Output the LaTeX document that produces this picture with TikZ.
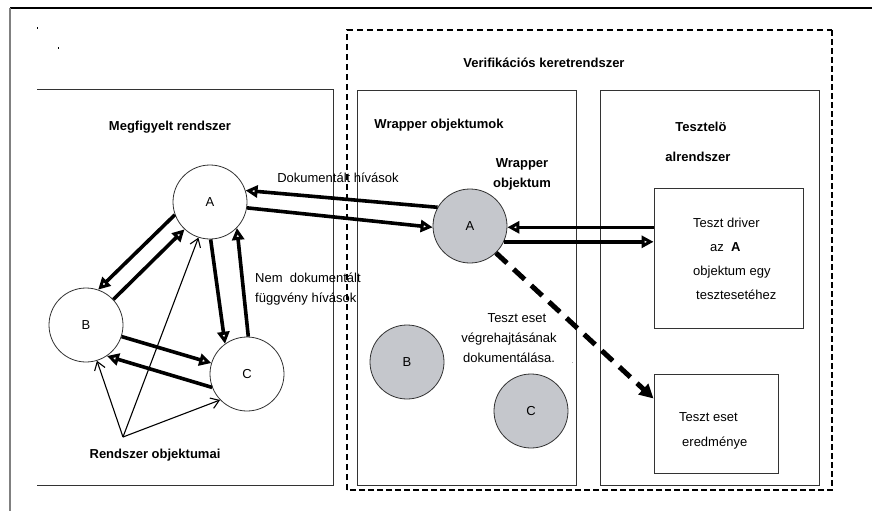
\documentclass[tikz,border=0pt]{standalone}
\usepackage{fontspec}
\setmainfont{Liberation Sans}
\usetikzlibrary{arrows.meta,calc}
\definecolor{objgray}{HTML}{C5C7CC}
\definecolor{framegray}{HTML}{333333}
\tikzset{
  lbl/.style={font=\fontsize{13}{20}\selectfont, inner sep=0pt},
  title/.style={lbl, font=\fontsize{13}{20}\selectfont\bfseries},
  obj/.style={circle, draw=framegray, line width=0.8pt, minimum size=74pt, inner sep=0pt, font=\fontsize{13}{16}\selectfont},
  wobj/.style={obj, fill=objgray},
  panel/.style={draw=framegray, line width=0.9pt},
  boxnode/.style={rectangle, draw=framegray, line width=0.9pt, inner sep=0pt},
  call/.style={line width=3.6pt, -{Triangle[open,length=12pt,width=12pt,line width=3.4pt]}},
  pointer/.style={line width=1.1pt, -{Straight Barb[length=8pt,width=11pt,line width=1.1pt]}},
  resultarrow/.style={line width=5pt, dash pattern=on 15pt off 9pt, -{Triangle[length=14pt,width=14pt]}},
  thindash/.style={line width=1.1pt, dash pattern=on 6pt off 4pt},
  thickdash/.style={line width=2.6pt, dash pattern=on 6pt off 3pt},
}
\begin{document}
\begin{tikzpicture}[x=1pt,y=-1pt]
\useasboundingbox (0,0) rectangle (872,511);
\fill[white] (0,0) rectangle (872,511);

% page frame
\draw[line width=1.4pt] (10,8) -- (872,8);
\draw[line width=1.4pt, gray] (10,8) -- (10,511);
\fill (36.5,27.5) rectangle (38,29);
\fill (57.5,47.5) rectangle (59,49);

% observed system panel (open on the left)
\draw[panel] (37,89) -- (333,89) -- (333,485) -- (37,485);
\node[title] (obstitle) at (170,127) {Megfigyelt rendszer};

% verification framework frame
\draw[thindash] (347,490) -- (347,30) -- (832,30);
\draw[thickdash] (832,30) -- (832,490) -- (347,490);
\node[title] (vertitle) at (544,63) {Verifikációs keretrendszer};

% wrapper and tester panels
\draw[panel] (357,90) rectangle (576,485);
\draw[panel] (600,90) rectangle (819,485);
\node[title] (wraptitle) at (439,125) {Wrapper objektumok};
\node[title, align=center] (wrapobj) at (522,174) {Wrapper\\objektum};
\node[title] (testtitle1) at (701,127) {Tesztelö};
\node[title] (testtitle2) at (698,157) {alrendszer};

% system objects
\node[obj] (A) at (210,202) {A};
\node[obj] (B) at (86,325) {B};
\node[obj] (C) at (247,374) {C};

% wrapper objects
\node[wobj] (WA) at (470,226) {A};
\node[wobj] (WB) at (407,362) {B};
\node[wobj] (WC) at (531,411) {C};

% test driver and test result
\node[boxnode, minimum width=149pt, minimum height=140pt] (drv) at (728.5,258) {};
\node[lbl, font=\fontsize{13}{24}\selectfont, align=left, anchor=north west] (drvtext) at (693,217.5)
  {Teszt driver\\\hspace{17pt}az \ \textbf{A}\\objektum egy\\\hspace{3pt}tesztesetéhez};
\node[boxnode, minimum width=124pt, minimum height=99pt] (res) at (716,423.5) {};
\node[lbl, font=\fontsize{13}{25}\selectfont, align=left, anchor=north west] (restext) at (679,412.5)
  {Teszt eset\\\hspace{3pt}eredménye};

% labels
\node[lbl] (doccalls) at (338,178) {Dokumentált hívások};
\node[lbl, align=left, anchor=north west] (undoc) at (255,273)
  {Nem \ dokumentált\\függvény hívások};
\node[lbl, align=center] (logtext) at (509,338)
  {\hspace{16pt}Teszt eset\\végrehajtásának\\dokumentálása.};
\fill[gray!60] (571.5,361.5) rectangle (573,363);
\node[title] (sysobjs) at (155,455) {Rendszer objektumai};
\coordinate (fan) at (123,437);

% calls inside the observed system
\draw[call] (A.200) -- (B.71);
\draw[call] (B.43) -- (A.227);
\draw[call] (A.271) -- (C.126);
\draw[call] (C.88) -- (A.316);
\draw[call] (B.342) -- (C.163);
\draw[call] (C.201) -- (B.304);

% documented calls through the wrapper
\draw[call] (WA.150) -- (A.18);
\draw[call] (A.351) -- (WA.182);
\draw[call] (drv.west |- WA.358) -- (WA.358);
\draw[call] (WA.335) -- (drv.west |- WA.335);
\draw[resultarrow] (WA.314) -- ($(res.north west)!0.25!(res.south west)$);

% pointers to the system objects
\draw[pointer] (fan) -- (B.287);
\draw[pointer] (fan) -- (A.252);
\draw[pointer] (fan) -- (C.224);
\end{tikzpicture}
\end{document}
